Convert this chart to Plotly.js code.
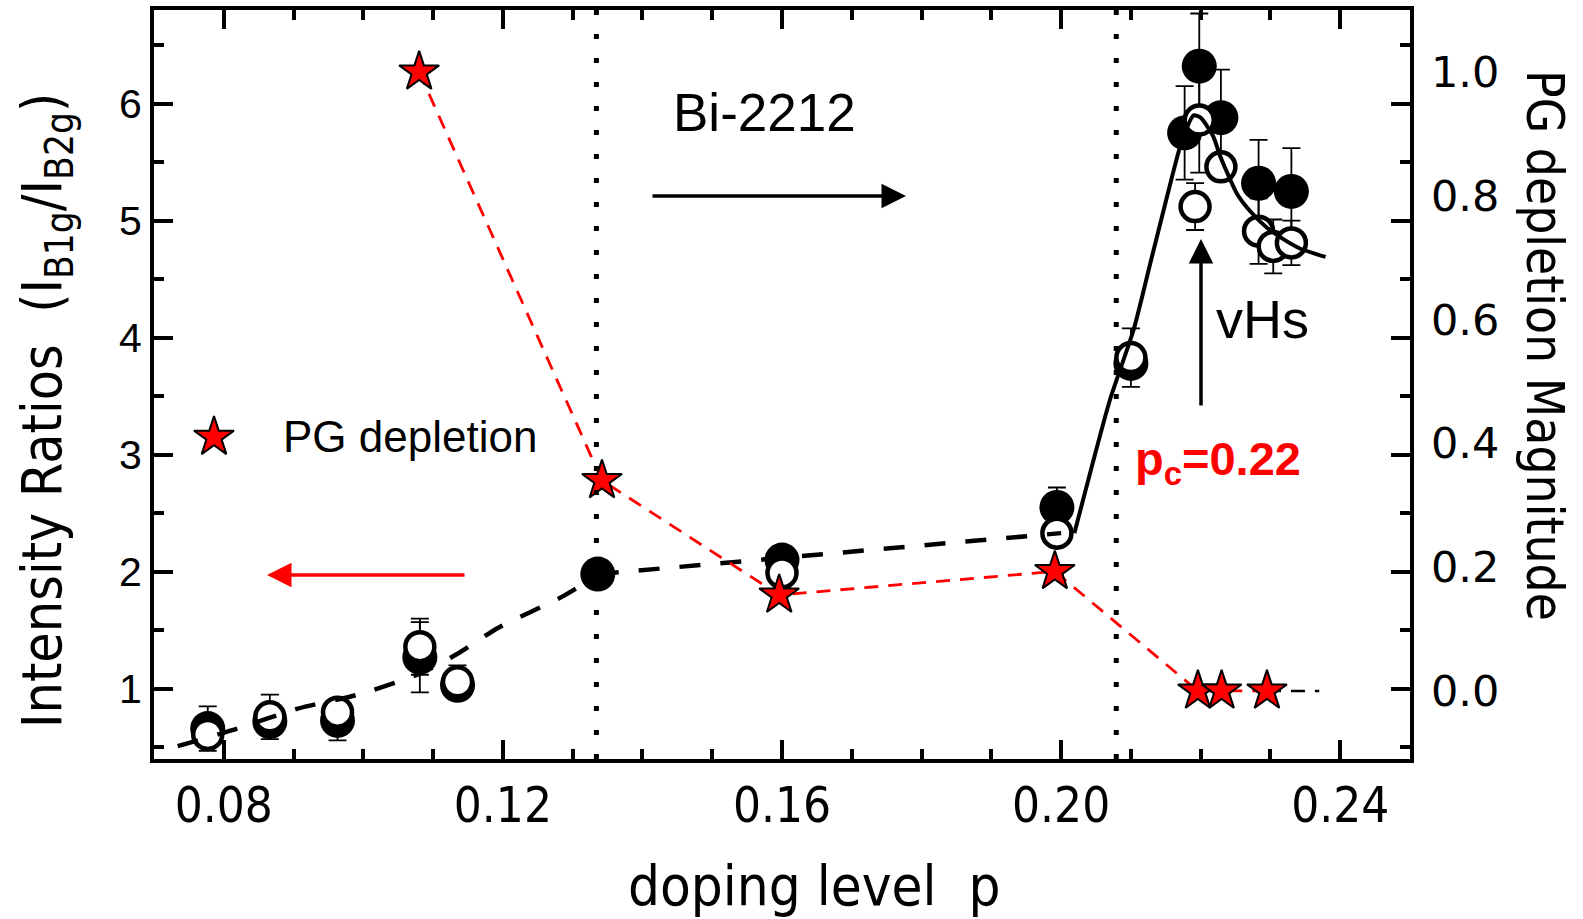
<!DOCTYPE html>
<html><head><meta charset="utf-8">
<script src="https://cdn.plot.ly/plotly-3.0.1.min.js"></script>
<style>html,body{margin:0;padding:0;background:#fff;} #chart{width:1583px;height:919px;}</style>
</head><body><div id="chart"></div>
<script>
// ---- filled circles: intensity ratio (left axis) ----
const filledP   = [0.0777, 0.0866, 0.0963, 0.1081, 0.1135, 0.1336, 0.1600, 0.1994, 0.2100, 0.2177, 0.2198, 0.2229, 0.2283, 0.2330];
const filledV   = [0.66,   0.72,   0.73,   1.27,   1.03,   1.98,   2.10,   2.55,   3.78,   5.75,   6.32,   5.88,   5.32,   5.25];
const filledErr = [0.19,   NaN,    0.17,   0.30,   NaN,    NaN,    NaN,    0.17,   NaN,    0.40,   0.45,   0.41,   0.37,   0.37];
// ---- open circles: intensity ratio (left axis) ----
const openP   = [0.0777, 0.0866, 0.0963, 0.1081, 0.1135, 0.1600, 0.1994, 0.2100, 0.2192, 0.2198, 0.2229, 0.2283, 0.2304, 0.2330];
const openV   = [0.61,   0.76,   0.80,   1.36,   1.06,   1.99,   2.33,   3.83,   5.12,   5.86,   5.46,   4.91,   4.78,   4.81];
const openErr = [NaN,    0.19,   NaN,    0.24,   0.14,   0.12,   NaN,    0.25,   0.20,   0.45,   NaN,    0.28,   0.23,   0.19];
// ---- guide curves ----
const dashCurveP = [0.0734, 0.0820, 0.0906, 0.0992, 0.1081, 0.1138, 0.1193, 0.1289, 0.1336];
const dashCurveV = [0.51,   0.66,   0.83,   0.95,   1.13,   1.31,   1.52,   1.80,   1.98];
const dashLineP  = [0.1336, 0.2000];
const dashLineV  = [1.98,   2.33];
const solidCurveP = [0.2019, 0.2044, 0.2070, 0.2104, 0.2128, 0.2152, 0.2172, 0.2190, 0.2200, 0.2218, 0.2228, 0.2238, 0.2252, 0.2271, 0.2295, 0.2319, 0.2343, 0.2379];
const solidCurveV = [2.33,   2.90,   3.47,   4.07,   4.64,   5.21,   5.66,   5.90,   5.88,   5.72,   5.55,   5.41,   5.23,   5.08,   4.94,   4.84,   4.76,   4.69];
// ---- PG depletion magnitude (right axis) ----
const starP = [0.1080, 0.1342, 0.1596, 0.1991, 0.2196, 0.2230, 0.2295];
const starM = [1.00,   0.34,   0.155,  0.193,  0.00,   0.00,   0.00];
const starTailP = [0.2295, 0.2370];
const starTailM = [0.00,   0.00];
// ---- legend key and reference lines ----
const legendStarP = [0.0786];
const legendStarV = [3.15];
const boundaryP = [0.1334, 0.2079];
// ---- tick labels ----
const xTickVals = [0.08, 0.12, 0.16, 0.20, 0.24];
const xTickText = ['0.08', '0.12', '0.16', '0.20', '0.24'];
const yTickVals = [1, 2, 3, 4, 5, 6];
const y2TickVals = [0.0, 0.2, 0.4, 0.6, 0.8, 1.0];
const y2TickText = ['0.0', '0.2', '0.4', '0.6', '0.8', '1.0'];

const SANS = 'Liberation Sans, Arial, Helvetica, sans-serif';
const WIDE = 'DejaVu Sans, Verdana, sans-serif';
const NARROW = 'Liberation Sans Narrow, Arial Narrow, DejaVu Sans Condensed, sans-serif';

const traces = [
  {x: filledP, y: filledV, type: 'scatter', mode: 'markers', yaxis: 'y', hoverinfo: 'x+y',
   marker: {symbol: 'circle', size: 35, color: '#000', line: {width: 0}},
   error_y: {type: 'data', array: filledErr, visible: true, color: '#000', thickness: 1.8, width: 9}},
  {x: openP, y: openV, type: 'scatter', mode: 'markers', yaxis: 'y', hoverinfo: 'x+y',
   marker: {symbol: 'circle', size: 29, color: '#fff', line: {width: 4.5, color: '#000'}},
   error_y: {type: 'data', array: openErr, visible: true, color: '#000', thickness: 1.8, width: 9}},
  {x: dashCurveP, y: dashCurveV, type: 'scatter', mode: 'lines', yaxis: 'y', hoverinfo: 'skip',
   line: {color: '#000', width: 4.5, dash: '21px,20px', shape: 'spline', smoothing: 0.8}},
  {x: dashLineP, y: dashLineV, type: 'scatter', mode: 'lines', yaxis: 'y', hoverinfo: 'skip',
   line: {color: '#000', width: 4.5, dash: '21px,20px'}},
  {x: solidCurveP, y: solidCurveV, type: 'scatter', mode: 'lines', yaxis: 'y', hoverinfo: 'skip',
   line: {color: '#000', width: 4, shape: 'spline', smoothing: 0.6}},
  {x: legendStarP, y: legendStarV, type: 'scatter', mode: 'markers', yaxis: 'y', hoverinfo: 'skip',
   marker: {symbol: 'star', size: 30, color: '#ff0000', line: {width: 2, color: '#000'}}},
  {x: starTailP, y: starTailM, type: 'scatter', mode: 'lines', yaxis: 'y2', hoverinfo: 'skip',
   line: {color: '#000', width: 2.5, dash: '14px,10px'}},
  {x: starP, y: starM, type: 'scatter', mode: 'lines+markers', yaxis: 'y2', hoverinfo: 'x+y',
   line: {color: '#ff0000', width: 2.8, dash: '14px,10px'},
   marker: {symbol: 'star', size: 30, color: '#ff0000', line: {width: 2, color: '#000'}}}
];

const shapes = boundaryP.map(p => ({
  type: 'line', xref: 'x', yref: 'paper', x0: p, x1: p, y0: 0, y1: 1,
  line: {color: '#000', width: 5, dash: '5px,19px'}
}));

// helpers converting reference pixel positions of free text into paper fractions
const px = v => (v - 154) / 1256;
const py = v => 1 - (v - 10) / 749;

const annotations = [
  {text: 'doping level\u00a0\u00a0p', xref: 'paper', yref: 'paper', x: px(814), y: py(885),
   xanchor: 'center', yanchor: 'middle', showarrow: false, font: {family: NARROW, size: 56, color: '#000'}},
  {text: 'Intensity Ratios\u00a0\u00a0(I<sub>B1g</sub>/I<sub>B2g</sub>)', xref: 'paper', yref: 'paper',
   x: px(46), y: py(411), xanchor: 'center', yanchor: 'middle', textangle: -90, showarrow: false,
   font: {family: NARROW, size: 55, color: '#000'}},
  {text: 'PG depletion Magnitude', xref: 'paper', yref: 'paper', x: px(1545), y: py(345),
   xanchor: 'center', yanchor: 'middle', textangle: 90,
   showarrow: false, font: {family: NARROW, size: 51, color: '#000'}},
  {text: 'Bi-2212', xref: 'paper', yref: 'paper', x: px(764), y: py(113),
   xanchor: 'center', yanchor: 'middle', showarrow: false, font: {family: SANS, size: 53, color: '#000'}},
  {text: 'PG depletion', xref: 'paper', yref: 'paper', x: px(281), y: py(437),
   xanchor: 'left', yanchor: 'middle', showarrow: false, font: {family: SANS, size: 44, color: '#000'}},
  {text: 'vHs', xref: 'paper', yref: 'paper', x: px(1262), y: py(319),
   xanchor: 'center', yanchor: 'middle', showarrow: false, font: {family: SANS, size: 54, color: '#000'}},
  {text: '<b>p<sub>c</sub>=0.22</b>', xref: 'paper', yref: 'paper', x: px(1133), y: py(462),
   xanchor: 'left', yanchor: 'middle', showarrow: false, font: {family: SANS, size: 47, color: '#ff0000'}},
  // arrows
  {text: '', xref: 'paper', yref: 'paper', x: px(906), y: py(196),
   ax: -255, ay: 0, showarrow: true, arrowhead: 2, arrowsize: 1.4, arrowwidth: 3.5, arrowcolor: '#000'},
  {text: '', xref: 'paper', yref: 'paper', x: px(267), y: py(575),
   ax: 199, ay: 0, showarrow: true, arrowhead: 2, arrowsize: 1.4, arrowwidth: 3.5, arrowcolor: '#ff0000'},
  {text: '', xref: 'paper', yref: 'paper', x: px(1201), y: py(239),
   ax: 0, ay: 168, showarrow: true, arrowhead: 2, arrowsize: 1.4, arrowwidth: 3.5, arrowcolor: '#000'}
];

const layout = {
  width: 1583, height: 919,
  margin: {l: 154, r: 173, t: 10, b: 160, pad: 0},
  paper_bgcolor: '#fff', plot_bgcolor: '#fff',
  showlegend: false,
  xaxis: {
    range: [0.07, 0.25], tickvals: xTickVals, ticktext: xTickText,
    showline: true, linewidth: 4, linecolor: '#000', mirror: 'ticks',
    ticks: 'inside', ticklen: 19, tickwidth: 4, tickcolor: '#000',
    minor: {ticks: 'inside', ticklen: 10, tickwidth: 4, tickcolor: '#000', dtick: 0.01, tick0: 0},
    showgrid: false, zeroline: false,
    tickfont: {family: NARROW, size: 49, color: '#000'}
  },
  yaxis: {
    range: [0.4, 6.8], tickvals: yTickVals,
    showline: true, linewidth: 4, linecolor: '#000', mirror: 'ticks',
    ticks: 'inside', ticklen: 19, tickwidth: 4, tickcolor: '#000',
    minor: {ticks: 'inside', ticklen: 10, tickwidth: 4, tickcolor: '#000', dtick: 0.5, tick0: 0},
    showgrid: false, zeroline: false,
    tickfont: {family: SANS, size: 41, color: '#000'}
  },
  yaxis2: {
    range: [-0.11, 1.1], overlaying: 'y', side: 'right',
    tickvals: y2TickVals, ticktext: y2TickText, ticklabelstandoff: 20,
    showline: false, ticks: '', showgrid: false, zeroline: false,
    tickfont: {family: WIDE, size: 43, color: '#000'}
  },
  shapes: shapes,
  annotations: annotations
};

Plotly.newPlot('chart', traces, layout, {displayModeBar: false, staticPlot: true});
</script>
</body></html>
